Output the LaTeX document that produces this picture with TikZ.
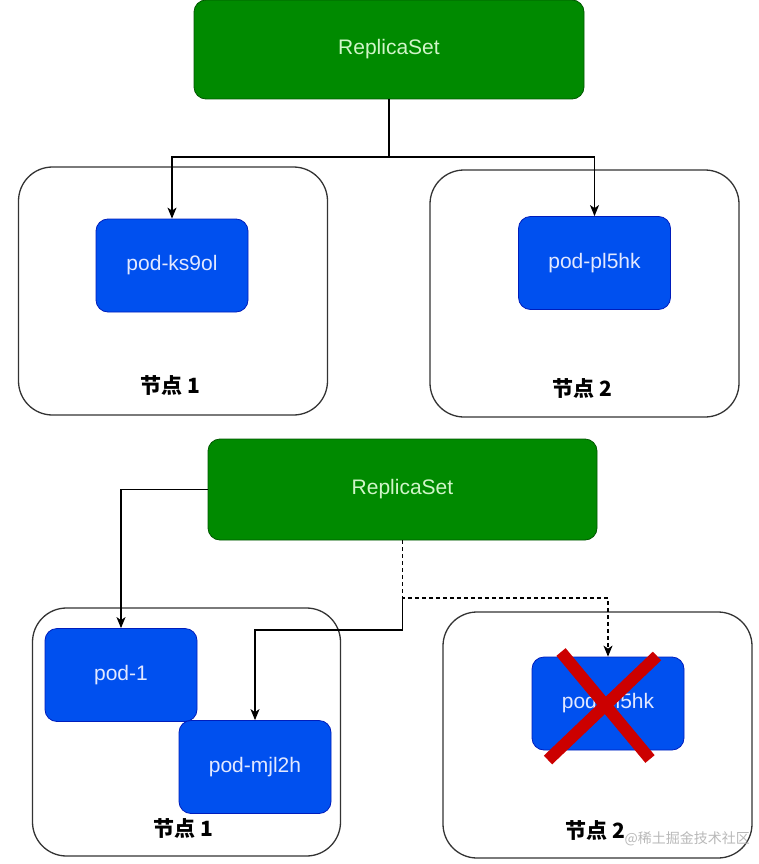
\documentclass[tikz,border=0pt]{standalone}
\usepackage{fontspec}
\setmainfont{Liberation Sans}
\newfontfamily\cjk{Noto Sans CJK SC}
\usetikzlibrary{arrows.meta}
\definecolor{rsfill}{HTML}{008A00}
\definecolor{rsline}{HTML}{005700}
\definecolor{rstext}{HTML}{D0F5C8}
\definecolor{podfill}{HTML}{0050EF}
\definecolor{podline}{HTML}{001DBC}
\definecolor{podtext}{HTML}{E2E8FF}
\definecolor{crossred}{HTML}{CC0000}
\definecolor{boxline}{HTML}{333333}
\begin{document}
\begin{tikzpicture}[x=1pt,y=-1pt,
  rsbox/.style={draw=rsline,fill=rsfill,rounded corners=12pt,line width=0.8pt,
    text=rstext,font=\fontsize{21}{24}\selectfont,inner sep=0pt},
  podbox/.style={draw=podline,fill=podfill,rounded corners=12pt,line width=0.8pt,
    text=podtext,font=\fontsize{21}{24}\selectfont,inner sep=0pt,
    minimum width=152pt,minimum height=93pt},
  hostbox/.style={draw=boxline,rounded corners=34pt,line width=1.3pt,inner sep=0pt},
  hostlabel/.style={font=\cjk\bfseries\fontsize{21}{24}\selectfont,text=black,inner sep=0pt},
  arr/.style={draw=black,line width=1.2pt,-{Stealth[length=11pt,width=9pt,inset=3pt]}},
  crossline/.style={draw=crossred,line width=12pt},
  wmark/.style={font=\cjk\fontsize{14}{17}\selectfont,text=black!28,inner sep=0pt}
]
\useasboundingbox (0,0) rectangle (759,864);

% ---------- top diagram ----------
\node[rsbox,minimum width=390pt,minimum height=99pt] (rs1) at (389,49.5) {ReplicaSet};
\node[hostbox,minimum width=309pt,minimum height=248pt] (nb1) at (173,291) {};
\node[hostbox,minimum width=309pt,minimum height=247pt] (nb2) at (584.5,293.5) {};
\node[podbox] (p1) at (172,265.5) {pod-ks9ol};
\node[podbox] (p2) at (594.5,263) {pod-pl5hk};
\node[hostlabel] (l1) at (170,385) {节点 1};
\node[hostlabel] (l2) at (582,388) {节点 2};

\coordinate (j1) at (389,157);
\draw[line width=1.2pt] (rs1.south) -- (j1);
\draw[arr] (j1) -| (p1.north);
\draw[arr] (j1) -| (p2.north);

% ---------- bottom diagram ----------
\node[rsbox,minimum width=389pt,minimum height=101pt] (rs2) at (402.5,489.5) {ReplicaSet};
\node[hostbox,minimum width=308pt,minimum height=248pt] (nb3) at (186.5,732) {};
\node[hostbox,minimum width=309pt,minimum height=246pt] (nb4) at (597.5,735) {};
\node[podbox] (p3) at (121,675) {pod-1};
\node[podbox] (p4) at (255,767) {pod-mjl2h};
\node[podbox] (p5) at (608,703.5) {pod-pl5hk};
\node[hostlabel] (l3) at (183,828) {节点 1};
\node[hostlabel] (l4) at (595,830) {节点 2};

\draw[arr] (rs2.west) -| (p3.north);
\coordinate (j2) at (402.5,598);
\coordinate (j3) at (402.5,630);
\draw[arr,dashed,dash pattern=on 4pt off 3pt] (rs2.south) -- (j2) -| (p5.north);
\draw[line width=1.2pt] (j2) -- (j3);
\draw[arr] (j3) -| (p4.north);

% red cross over the lost pod
\draw[crossline] (561,652) -- (650,759);
\draw[crossline] (657,656) -- (548,760);

% watermark
\node[wmark,anchor=east] (wm) at (750,839) {@稀土掘金技术社区};
\end{tikzpicture}
\end{document}
